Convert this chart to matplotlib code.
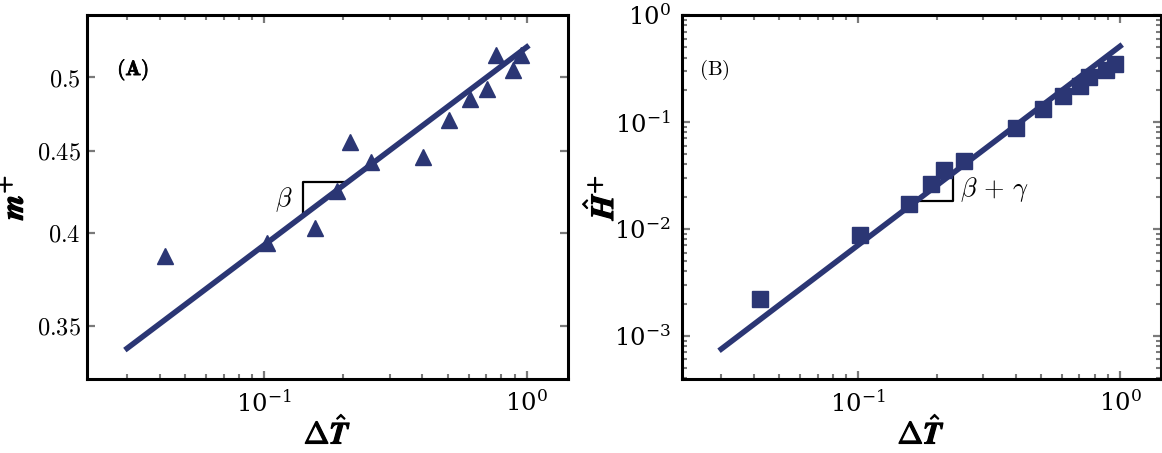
import numpy as np
import matplotlib
matplotlib.use("Agg")
import matplotlib.pyplot as plt
import matplotlib.patheffects as pe
from matplotlib.ticker import FixedLocator, FixedFormatter, LogLocator, LogFormatterMathtext, NullFormatter, NullLocator

plt.rcParams['mathtext.fontset'] = 'cm'
plt.rcParams['font.family'] = 'DejaVu Serif'

# shared temperature difference values
dT = [0.042, 0.102, 0.156, 0.190, 0.212, 0.254, 0.402, 0.506, 0.607, 0.704, 0.764, 0.884, 0.954]
m_plus = [0.387, 0.394, 0.403, 0.425, 0.456, 0.443, 0.446, 0.470, 0.485, 0.492, 0.516, 0.505, 0.516]
H_plus = [0.00221, 0.00882, 0.0172, 0.0265, 0.0352, 0.0434, 0.0885, 0.132, 0.176, 0.219, 0.264, 0.304, 0.349]

# power-law fits (end points)
fit_x = [0.03, 1.0]
fit_m = [0.3388, 0.5223]
fit_H = [7.51e-4, 0.510]

# slope triangles
slopeA_x = [0.1404, 0.1404, 0.2096]
slopeA_y = [0.4103, 0.4302, 0.4302]
slopeB_x = [0.167, 0.2295, 0.2295]
slopeB_y = [0.01807, 0.01807, 0.03143]

m_ticks = [0.35, 0.4, 0.45, 0.5]
m_ticklabels = ['$0.35$', '$0.4$', '$0.45$', '$0.5$']

navy = '#2b3674'
tick_gray = '#7a7a7a'

fig = plt.figure(figsize=(11.62, 4.53), dpi=100)
ax1 = fig.add_axes([0.0753, 0.1623, 0.4131, 0.8046])
ax2 = fig.add_axes([0.5867, 0.1623, 0.4122, 0.8046])

xlim = (0.0212, 1.43)
bolden = [pe.withStroke(linewidth=0.9, foreground='black')]


def style_axis(ax, ypad):
    ax.set_xscale('log')
    ax.set_yscale('log')
    for sp in ax.spines.values():
        sp.set_linewidth(2.2)
        sp.set_color('black')
    ax.tick_params(which='both', direction='in', top=True, right=True,
                   color=tick_gray, labelsize=17.5)
    ax.tick_params(which='major', length=6, width=1.6)
    ax.tick_params(which='minor', length=3.5, width=1.5)
    ax.tick_params(axis='x', which='both', pad=8)
    ax.tick_params(axis='y', which='both', pad=ypad)
    ax.xaxis.set_major_locator(LogLocator(base=10))
    ax.xaxis.set_major_formatter(LogFormatterMathtext())
    ax.xaxis.set_minor_locator(LogLocator(base=10, subs=np.arange(2, 10)))
    ax.xaxis.set_minor_formatter(NullFormatter())
    ax.set_xlim(*xlim)
    ax.set_xlabel(r'$\mathbf{\Delta}\hat{\mathbfit{T}}$', fontsize=22)
    ax.xaxis.label.set_path_effects(bolden)
    ax.xaxis.set_label_coords(0.5, -0.105)


# Panel A
style_axis(ax1, 5)
ax1.plot(fit_x, fit_m, color=navy, lw=4, zorder=2)
ax1.plot(dT, m_plus, linestyle='none', marker='^', ms=11.5, color=navy, zorder=3)
ax1.plot(slopeA_x, slopeA_y, color='black', lw=1.6, zorder=1)
ax1.text(0.1285, 0.4195, r'$\beta$', fontsize=19, ha='right', va='center')
ax1.set_ylim(0.324, 0.5469)
ax1.yaxis.set_major_locator(FixedLocator(m_ticks))
ax1.yaxis.set_major_formatter(FixedFormatter(m_ticklabels))
ax1.yaxis.set_minor_locator(NullLocator())
ax1.set_ylabel(r'$\mathbfit{m}^{\mathbf{+}}$', fontsize=23)
ax1.yaxis.label.set_path_effects(bolden)
ax1.yaxis.set_label_coords(-0.12, 0.5)
ax1.text(0.062, 0.849, r'$\mathbf{(A)}$', transform=ax1.transAxes, fontsize=15,
         ha='left', va='center',
         path_effects=[pe.withStroke(linewidth=0.6, foreground='black')])

# Panel B
style_axis(ax2, 8)
ax2.plot(fit_x, fit_H, color=navy, lw=4, zorder=2)
ax2.plot(dT, H_plus, linestyle='none', marker='s', ms=11.5, color=navy, zorder=3)
ax2.plot(slopeB_x, slopeB_y, color='black', lw=1.6, zorder=1)
ax2.text(0.2446, 0.02325, r'$\beta\,+\,\gamma$', fontsize=19, ha='left', va='center')
ax2.set_ylim(3.9e-4, 1.0)
ax2.yaxis.set_major_locator(LogLocator(base=10))
ax2.yaxis.set_major_formatter(LogFormatterMathtext())
ax2.yaxis.set_minor_locator(LogLocator(base=10, subs=np.arange(2, 10)))
ax2.yaxis.set_minor_formatter(NullFormatter())
ax2.set_ylabel(r'$\hat{\mathbfit{H}}^{\mathbf{+}}$', fontsize=23)
ax2.yaxis.label.set_path_effects(bolden)
ax2.yaxis.set_label_coords(-0.129, 0.5)
ax2.text(0.035, 0.849, r'$(\mathrm{B})$', transform=ax2.transAxes, fontsize=15,
         ha='left', va='center')

fig.savefig('out.png', dpi=100)
